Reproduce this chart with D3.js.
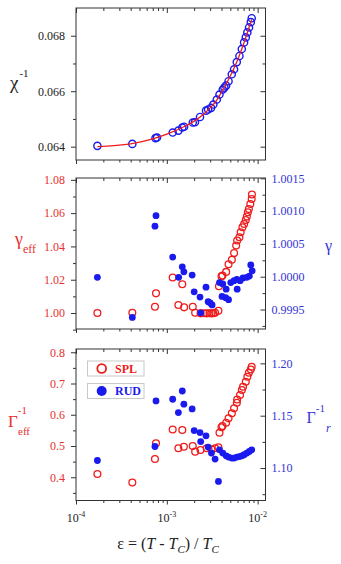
<!DOCTYPE html>
<html>
<head>
<meta charset="utf-8">
<script src="https://cdn.jsdelivr.net/npm/d3@7"></script>
<style>
  body { margin: 0; background: #fff; }
  svg { display: block; font-family: "Liberation Serif", "Times New Roman", serif; }
  .frame { fill: none; stroke: #333; stroke-width: 1; }
  .axis path { display: none; }
  .axis line { stroke: #333; }
  .axis text { font-size: 12px; font-family: "Liberation Serif", serif; }
</style>
</head>
<body>
<div id="chart"></div>
<script>
(function() {
  "use strict";

  /* ------- DATA ------- */

  // top panel: inverse susceptibility, blue open circles + red fit line
  var chiEps = [1.72e-4, 4.17e-4, 7.5e-4, 7.8e-4, 1.16e-3, 1.34e-3, 1.48e-3, 1.55e-3,
    1.93e-3, 2.04e-3, 2.32e-3, 2.7e-3, 2.85e-3, 3.07e-3, 3.25e-3, 3.55e-3, 3.8e-3,
    4.13e-3, 4.3e-3, 4.49e-3, 4.78e-3, 5.19e-3, 5.5e-3, 5.89e-3, 6.3e-3, 6.69e-3,
    7.09e-3, 7.4e-3, 7.7e-3, 8.04e-3, 8.4e-3, 8.6e-3];
  var chiInv = [0.06403, 0.06410, 0.06431, 0.06433, 0.06451, 0.06458, 0.06469, 0.06472,
    0.06487, 0.06488, 0.06507, 0.06530, 0.06534, 0.06540, 0.06552, 0.06570, 0.06588,
    0.06606, 0.06613, 0.06620, 0.06636, 0.06661, 0.06679, 0.06705, 0.06727, 0.06752,
    0.06776, 0.06794, 0.06812, 0.06830, 0.06849, 0.06863];
  var fitEps = [1.72e-4, 4e-4, 7e-4, 1e-3, 1.5e-3, 2e-3, 2.5e-3, 3e-3, 3.5e-3, 4e-3,
    5e-3, 6e-3, 7e-3, 8e-3, 8.6e-3];
  var fitChi = [0.06400, 0.06410, 0.06428, 0.06445, 0.06470, 0.06492, 0.06515, 0.06540,
    0.06565, 0.06597, 0.06655, 0.06712, 0.06770, 0.06828, 0.06858];

  // middle panel: gamma_eff (SPL, left axis) and gamma (RUD, right axis)
  var gEffEps = [1.72e-4, 4.17e-4, 7.4e-4, 7.6e-4, 1.16e-3, 1.34e-3, 1.48e-3, 1.55e-3,
    1.93e-3, 2.05e-3, 2.35e-3, 2.55e-3, 2.75e-3, 2.95e-3, 3.1e-3, 3.25e-3, 3.4e-3,
    3.7e-3, 3.75e-3, 4.0e-3, 4.1e-3, 4.5e-3, 4.78e-3, 5.2e-3, 5.5e-3, 5.8e-3, 5.95e-3,
    6.3e-3, 6.5e-3, 6.8e-3, 7.1e-3, 7.4e-3, 7.6e-3, 7.8e-3, 8.0e-3, 8.3e-3, 8.6e-3,
    8.65e-3];
  var gEff = [1.0000, 1.0002, 1.0038, 1.0118, 1.0213, 1.0048, 1.0173, 1.0034,
    1.0038, 1.0002, 0.9998, 0.9999, 0.9998, 0.9999, 0.9998, 0.9999, 1.0002,
    1.0014, 1.0161, 1.0220, 1.0225, 1.0247, 1.0293, 1.0320, 1.0360, 1.0406, 1.0436,
    1.0455, 1.0485, 1.0515, 1.0535, 1.0559, 1.0579, 1.0605, 1.0625, 1.0655, 1.0685,
    1.0712];
  var gEps = [1.72e-4, 4.17e-4, 7.4e-4, 7.6e-4, 1.16e-3, 1.35e-3, 1.48e-3, 1.54e-3,
    1.9e-3, 2.0e-3, 2.32e-3, 2.36e-3, 2.7e-3, 2.85e-3, 3.0e-3, 3.15e-3, 3.8e-3,
    4.05e-3, 4.13e-3, 4.45e-3, 4.5e-3, 4.78e-3, 5.06e-3, 5.5e-3, 5.9e-3, 5.95e-3,
    6.4e-3, 6.9e-3, 7.6e-3, 8.1e-3, 8.4e-3, 8.7e-3];
  var gam = [0.99999, 0.99938, 1.00077, 1.00093, 1.00030, 0.99999, 1.00015, 1.000075,
    1.000025, 0.99977, 0.99969, 0.99945, 0.99984, 0.99962, 0.99960, 0.99957, 0.99991,
    0.99970, 0.99989, 0.99968, 0.99981, 0.99965, 0.99991, 0.99994, 0.99996, 0.99981,
    0.99994, 0.99998, 0.99999, 1.00001, 1.00018, 1.00009];

  // bottom panel: Gamma_eff^-1 (SPL, left axis) and Gamma_r^-1 (RUD, right axis)
  var bEffEps = [1.72e-4, 4.17e-4, 7.4e-4, 7.6e-4, 1.16e-3, 1.34e-3, 1.48e-3, 1.54e-3,
    1.93e-3, 2.05e-3, 2.35e-3, 2.75e-3, 3.1e-3, 3.4e-3, 3.7e-3, 3.8e-3, 4.0e-3, 4.1e-3,
    4.5e-3, 4.78e-3, 5.2e-3, 5.5e-3, 5.9e-3, 5.95e-3, 6.4e-3, 6.7e-3, 6.9e-3, 7.4e-3,
    7.7e-3, 8.0e-3, 8.4e-3, 8.6e-3];
  var bEff = [0.4105, 0.383, 0.4585, 0.5086, 0.553, 0.4926, 0.551, 0.4978,
    0.500, 0.482, 0.487, 0.4926, 0.4895, 0.4926, 0.496, 0.5425, 0.560, 0.564,
    0.5745, 0.5885, 0.6045, 0.6205, 0.6385, 0.649, 0.663, 0.679, 0.6895, 0.7055,
    0.7215, 0.7345, 0.745, 0.7535];
  var bREps = [1.72e-4, 7.4e-4, 7.6e-4, 1.16e-3, 1.34e-3, 1.48e-3, 1.54e-3, 1.9e-3,
    2.0e-3, 2.32e-3, 2.36e-3, 2.7e-3, 2.85e-3, 3.1e-3, 3.4e-3, 3.7e-3, 3.8e-3, 4.13e-3,
    4.5e-3, 4.78e-3, 5.19e-3, 5.5e-3, 5.9e-3, 6.3e-3, 6.7e-3, 7.1e-3, 7.6e-3, 8.1e-3,
    8.6e-3];
  var bR = [1.1072, 1.1206, 1.1641, 1.1657, 1.153, 1.1736, 1.161, 1.1565,
    1.1358, 1.1339, 1.1253, 1.1308, 1.120, 1.1143, 1.1086, 1.0872, 1.1174, 1.1143,
    1.1117, 1.1105, 1.1095, 1.1095, 1.1105, 1.111, 1.1117, 1.1127, 1.1143, 1.1158,
    1.1174];

  var legendLabels = ["SPL", "RUD"];

  /* ------- LAYOUT ------- */

  var width = 341, height = 564;
  var RED = "#ee1c1c", BLUE = "#1a1aee";
  var RED_TXT = "#e83030", BLUE_TXT = "#3434d4";
  var xLeft = 76, xRight = 265.5;

  var svg = d3.select("#chart").append("svg")
    .attr("width", width)
    .attr("height", height);

  var x = d3.scaleLog().domain([1e-4, 1.22e-2]).range([xLeft, xRight]);
  var xTicksAll = x.ticks();
  var xMajor = xTicksAll.filter(function(d) {
    return Math.abs(Math.log10(d) - Math.round(Math.log10(d))) < 1e-9;
  });
  var xMinor = xTicksAll.filter(function(d) { return xMajor.indexOf(d) < 0; });

  function frame(top, bottom) {
    svg.append("rect")
      .attr("class", "frame")
      .attr("x", xLeft)
      .attr("y", top)
      .attr("width", xRight - xLeft)
      .attr("height", bottom - top);
  }

  // ticks on the top edge point in, ticks on the bottom edge point out
  function xFrameTicks(top, bottom) {
    svg.append("g").attr("class", "axis")
      .attr("transform", "translate(0," + top + ")")
      .call(d3.axisTop(x).tickValues(xMajor).tickSize(-5).tickFormat(""));
    svg.append("g").attr("class", "axis")
      .attr("transform", "translate(0," + top + ")")
      .call(d3.axisTop(x).tickValues(xMinor).tickSize(-3).tickFormat(""));
    svg.append("g").attr("class", "axis")
      .attr("transform", "translate(0," + bottom + ")")
      .call(d3.axisBottom(x).tickValues(xMajor).tickSize(4).tickFormat(""));
    svg.append("g").attr("class", "axis")
      .attr("transform", "translate(0," + bottom + ")")
      .call(d3.axisBottom(x).tickValues(xMinor).tickSize(2.5).tickFormat(""));
  }

  // left axis ticks point out, right axis ticks point in
  function yAxis(scale, side, majors, minors, fmt, color) {
    var isLeft = side === "left";
    var tx = isLeft ? xLeft : xRight;
    var mk = function() { return isLeft ? d3.axisLeft(scale) : d3.axisRight(scale); };
    var g = svg.append("g").attr("class", "axis")
      .attr("transform", "translate(" + tx + ",0)")
      .call(mk().tickValues(majors).tickSize(isLeft ? 5 : -5)
        .tickPadding(6).tickFormat(fmt));
    g.selectAll("text").attr("fill", color);
    svg.append("g").attr("class", "axis")
      .attr("transform", "translate(" + tx + ",0)")
      .call(mk().tickValues(minors).tickSize(isLeft ? 3 : -3).tickFormat(""));
  }

  function openCircles(eps, vals, y, color, r, sw) {
    svg.append("g").selectAll("circle")
      .data(d3.zip(eps, vals))
      .enter()
      .append("circle")
      .attr("cx", function(d) { return x(d[0]); })
      .attr("cy", function(d) { return y(d[1]); })
      .attr("r", r)
      .attr("fill", "none")
      .attr("stroke", color)
      .attr("stroke-width", sw);
  }

  function dots(eps, vals, y, color, r) {
    svg.append("g").selectAll("circle")
      .data(d3.zip(eps, vals))
      .enter()
      .append("circle")
      .attr("cx", function(d) { return x(d[0]); })
      .attr("cy", function(d) { return y(d[1]); })
      .attr("r", r)
      .attr("fill", color);
  }

  // text with optional super/subscripts: parts = [[text, size, dx, dy, style]]
  function label(xPos, yPos, color, parts) {
    var t = svg.append("text")
      .attr("x", xPos)
      .attr("y", yPos)
      .attr("fill", color);
    parts.forEach(function(p) {
      var s = t.append("tspan")
        .attr("font-size", p[1])
        .attr("dx", p[2] || 0)
        .attr("dy", p[3] || 0)
        .text(p[0]);
      if (p[4]) s.attr("font-style", p[4]);
    });
    return t;
  }

  /* ------- TOP PANEL ------- */

  var p1 = { top: 8, bottom: 160 };
  var y1 = d3.scaleLinear().domain([0.06352, 0.0690]).range([p1.bottom, p1.top]);

  frame(p1.top, p1.bottom);
  xFrameTicks(p1.top, p1.bottom);
  yAxis(y1, "left", [0.064, 0.066, 0.068], [0.065, 0.067], d3.format(".3f"), "#222");
  yAxis(y1, "right", [0.064, 0.066, 0.068], [0.065, 0.067], "", "#222");

  var fitLine = d3.line()
    .x(function(d) { return x(d[0]); })
    .y(function(d) { return y1(d[1]); })
    .curve(d3.curveMonotoneX);

  openCircles(chiEps, chiInv, y1, BLUE, 3.6, 1.4);

  svg.append("path")
    .datum(d3.zip(fitEps, fitChi))
    .attr("d", fitLine)
    .attr("fill", "none")
    .attr("stroke", RED)
    .attr("stroke-width", 1.3);

  label(10, 89, "#222", [["\u03c7", "19px"], ["-1", "11px", 1, -12]]);

  /* ------- MIDDLE PANEL ------- */

  var p2 = { top: 178, bottom: 329 };
  var y2L = d3.scaleLinear().domain([0.9904, 1.0811]).range([p2.bottom, p2.top]);
  var y2R = d3.scaleLinear().domain([0.999203, 1.0015046]).range([p2.bottom, p2.top]);

  frame(p2.top, p2.bottom);
  xFrameTicks(p2.top, p2.bottom);
  yAxis(y2L, "left", [1.00, 1.02, 1.04, 1.06, 1.08], [0.99, 1.01, 1.03, 1.05, 1.07],
    d3.format(".2f"), RED_TXT);
  yAxis(y2R, "right", [0.9995, 1.0000, 1.0005, 1.0010, 1.0015],
    [0.99925, 0.99975, 1.00025, 1.00075, 1.00125], d3.format(".4f"), BLUE_TXT);

  openCircles(gEffEps, gEff, y2L, RED, 3.4, 1.3);
  dots(gEps, gam, y2R, BLUE, 3.4);

  label(15, 245, RED_TXT, [["\u03b3", "18px"], ["eff", "12px", 0, 8]]);
  label(325, 251, BLUE_TXT, [["\u03b3", "16px"]]);

  /* ------- BOTTOM PANEL ------- */

  var p3 = { top: 349, bottom: 500.5 };
  var y3L = d3.scaleLinear().domain([0.3256, 0.8104]).range([p3.bottom, p3.top]);
  var y3R = d3.scaleLinear().domain([1.069, 1.2137]).range([p3.bottom, p3.top]);

  frame(p3.top, p3.bottom);
  xFrameTicks(p3.top, p3.bottom);
  yAxis(y3L, "left", [0.4, 0.5, 0.6, 0.7, 0.8], [0.35, 0.45, 0.55, 0.65, 0.75],
    d3.format(".1f"), RED_TXT);
  yAxis(y3R, "right", [1.10, 1.15, 1.20], [1.075, 1.125, 1.175],
    d3.format(".2f"), BLUE_TXT);

  openCircles(bEffEps, bEff, y3L, RED, 3.4, 1.3);
  dots(bREps, bR, y3R, BLUE, 3.4);

  label(8, 426.5, RED_TXT, [["\u0393", "17px"], ["-1", "11px", 0, -13], ["eff", "11px", -9, 21]]);
  label(306.5, 422.5, BLUE_TXT, [["\u0393", "16px"], ["-1", "11px", 0, -11], ["r", "12px", 1, 20, "italic"]]);

  // x tick labels, bottom panel only: 10 with superscript exponent
  var xLab = svg.append("g").selectAll("text")
    .data(xMajor)
    .enter()
    .append("text")
    .attr("x", function(d) { return x(d); })
    .attr("y", 522)
    .attr("text-anchor", "middle")
    .attr("fill", "#222");
  xLab.append("tspan").attr("font-size", "12px").text("10");
  xLab.append("tspan").attr("font-size", "8px").attr("dy", -5)
    .text(function(d) { return String(Math.round(Math.log10(d))); });

  // axis title
  var xt = svg.append("text")
    .attr("x", 168)
    .attr("y", 549)
    .attr("text-anchor", "middle")
    .attr("fill", "#222")
    .attr("font-size", "16px");
  xt.append("tspan").text("\u03b5 = (");
  xt.append("tspan").attr("font-style", "italic").text("T");
  xt.append("tspan").text(" - ");
  xt.append("tspan").attr("font-style", "italic").text("T");
  xt.append("tspan").attr("font-style", "italic").attr("font-size", "11px").attr("dy", 4).text("C");
  xt.append("tspan").attr("dy", -4).text(") / ");
  xt.append("tspan").attr("font-style", "italic").text("T");
  xt.append("tspan").attr("font-style", "italic").attr("font-size", "11px").attr("dy", 4).text("C");

  /* ------- LEGEND ------- */

  var legend = svg.append("g").attr("class", "legend");
  var legRows = legend.selectAll("g")
    .data(legendLabels)
    .enter()
    .append("g")
    .attr("transform", function(d, i) { return "translate(87.5," + (361 + i * 22.5) + ")"; });

  legRows.append("rect")
    .attr("width", 56.5)
    .attr("height", 15)
    .attr("fill", "#fff")
    .attr("stroke", "#c8c8c8");

  legRows.append("circle")
    .attr("cx", 14.2)
    .attr("cy", 7.5)
    .attr("r", function(d, i) { return i === 0 ? 4.4 : 5; })
    .attr("fill", function(d, i) { return i === 0 ? "none" : BLUE; })
    .attr("stroke", function(d, i) { return i === 0 ? RED : "none"; })
    .attr("stroke-width", 1.8);

  legRows.append("text")
    .attr("x", 27.5)
    .attr("y", 11.8)
    .attr("font-size", "12px")
    .attr("font-weight", "bold")
    .attr("fill", function(d, i) { return i === 0 ? RED : BLUE; })
    .text(function(d) { return d; });
})();
</script>
</body>
</html>
